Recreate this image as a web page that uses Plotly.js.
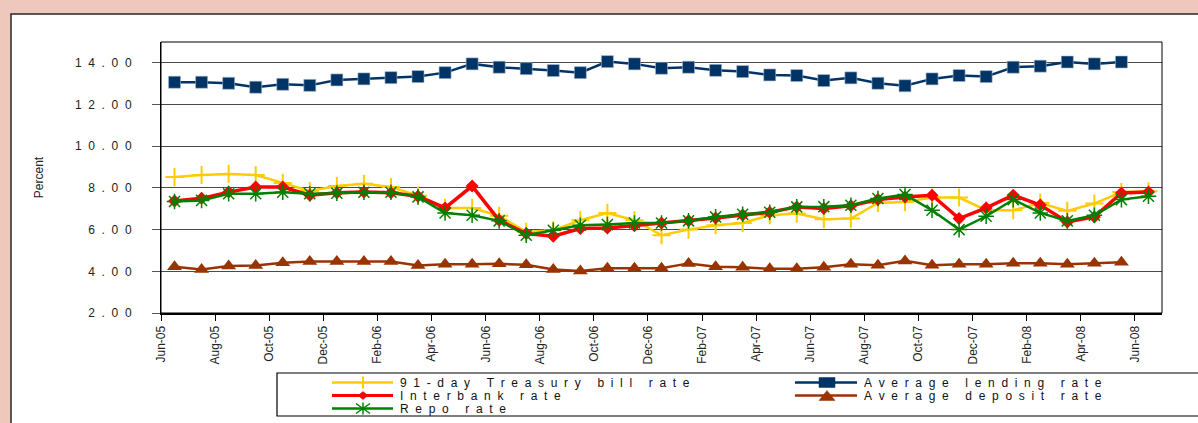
<!DOCTYPE html>
<html>
<head>
<meta charset="utf-8">
<script src="https://cdn.plot.ly/plotly-3.0.1.min.js"></script>
<style>
  html, body { margin: 0; padding: 0; background: #EEC8BD; }
  #chart { width: 1198px; height: 423px; }
</style>
</head>
<body>
<div id="chart"></div>
<script>
// ---------------- data ----------------
const months = ['Jun-05','Jul-05','Aug-05','Sep-05','Oct-05','Nov-05','Dec-05','Jan-06','Feb-06','Mar-06','Apr-06','May-06',
  'Jun-06','Jul-06','Aug-06','Sep-06','Oct-06','Nov-06','Dec-06','Jan-07','Feb-07','Mar-07','Apr-07','May-07',
  'Jun-07','Jul-07','Aug-07','Sep-07','Oct-07','Nov-07','Dec-07','Jan-08','Feb-08','Mar-08','Apr-08','May-08','Jun-08'];

const tbillRate = [8.52,8.62,8.67,8.62,8.24,7.85,8.09,8.20,8.04,7.63,7.04,7.04,
  6.66,5.89,5.97,6.45,6.80,6.45,5.73,6.00,6.21,6.32,6.69,6.77,
  6.50,6.53,7.28,7.33,7.54,7.54,6.93,6.93,7.28,6.90,7.25,7.80,7.84];

const lendingRate = [13.07,13.07,13.02,12.83,12.97,12.92,13.18,13.23,13.29,13.34,13.53,13.95,
  13.79,13.72,13.63,13.53,14.06,13.95,13.74,13.79,13.64,13.58,13.42,13.39,
  13.15,13.28,13.02,12.90,13.23,13.39,13.34,13.79,13.84,14.04,13.95,14.04,null];

const interbankRate = [7.37,7.50,7.80,8.04,8.04,7.65,7.77,7.80,7.77,7.60,7.04,8.09,
  6.45,5.81,5.68,6.05,6.08,6.19,6.32,6.42,6.56,6.70,6.83,7.09,
  7.01,7.14,7.44,7.57,7.65,6.53,7.04,7.65,7.18,6.37,6.61,7.76,7.80];

const depositRate = [4.22,4.09,4.25,4.28,4.41,4.47,4.47,4.47,4.47,4.28,4.34,4.34,
  4.36,4.31,4.09,4.02,4.15,4.15,4.15,4.38,4.22,4.19,4.12,4.12,
  4.19,4.34,4.29,4.50,4.29,4.34,4.34,4.39,4.39,4.34,4.39,4.44,null];

const repoRate = [7.35,7.40,7.72,7.72,7.79,7.72,7.75,7.79,7.79,7.57,6.80,6.69,
  6.42,5.73,5.97,6.21,6.24,6.32,6.32,6.42,6.61,6.74,6.83,7.09,
  7.10,7.17,7.49,7.68,6.93,6.00,6.64,7.44,6.80,6.42,6.69,7.44,7.60];

const yTicks = [2, 4, 6, 8, 10, 12, 14];
const yTitle = 'Percent';
const seriesNames = ['91-day Treasury bill rate', 'Average lending rate', 'Interbank rate', 'Average deposit rate', 'Repo rate'];

// ---------------- helpers ----------------
const idx = months.map((m, i) => i);
const tickIdx = idx.filter(i => i % 2 === 0);
const spaced = s => s.split('').join('\u00A0\u00A0');

const L = 161, R = 1162, T = 42, B = 313;
const X = px => (px - L) / (R - L);
const Y = py => (B - py) / (B - T);

const baseFont = 'Liberation Sans, Arial, Helvetica, sans-serif';
const legFont = 'Liberation Sans, Arial, sans-serif';

const styles = [
  {color: '#FFCC00', width: 2.5, marker: {symbol: 'cross-thin', size: 13, line: {color: '#FFCC00', width: 2}}},
  {color: '#003366', width: 2.5, marker: {symbol: 'square', size: 12, color: '#003366', line: {color: '#A8B8C8', width: 0.6}}},
  {color: '#FF0000', width: 3.5, marker: {symbol: 'diamond', size: 10, color: '#FF0000'}},
  {color: '#993300', width: 2.5, marker: {symbol: 'triangle-up', size: 13, color: '#993300'}},
  {color: '#008000', width: 2.5, marker: {symbol: 'asterisk-open', size: 13, line: {color: '#008000', width: 1.5}}}
];
const seriesData = [tbillRate, lendingRate, interbankRate, depositRate, repoRate];

const traces = seriesData.map((ys, k) => ({
  type: 'scatter', mode: 'lines+markers', name: seriesNames[k],
  x: idx, y: ys,
  line: {color: styles[k].color, width: styles[k].width},
  marker: Object.assign({}, styles[k].marker, styles[k].marker.color ? {} : {color: styles[k].color}),
  connectgaps: false, showlegend: false, hoverinfo: 'x+y+name'
}));

// ---------------- frame & manual legend ----------------
const shapes = [
  {type: 'rect', xref: 'paper', yref: 'paper', x0: X(11), x1: X(1210), y0: Y(440), y1: Y(14),
   fillcolor: '#FFFFFF', line: {color: '#2A2626', width: 1.5}, layer: 'below'},
  {type: 'rect', xref: 'paper', yref: 'paper', x0: 0, x1: 1, y0: 0, y1: 1,
   line: {color: '#000000', width: 1}, layer: 'above'},
  {type: 'rect', xref: 'paper', yref: 'paper', x0: X(277), x1: X(1210), y0: Y(416), y1: Y(373),
   fillcolor: 'rgba(0,0,0,0)', line: {color: '#000000', width: 1.2}, layer: 'above'}
];
const annotations = [];

const legCols = [{l0: 332, l1: 393, m: 363, t: 398}, {l0: 795, l1: 857, m: 827, t: 862}];
const legRows = [382.5, 395.5, 408.5];
const legPos = [[0,0],[1,0],[0,1],[1,1],[0,2]];

function seg(x0, y0, x1, y1, color, w) {
  shapes.push({type: 'line', xref: 'paper', yref: 'paper', x0: X(x0), y0: Y(y0), x1: X(x1), y1: Y(y1),
    line: {color: color, width: w}, layer: 'above'});
}
function poly(pts, color) {
  const d = pts.map((p, i) => (i ? 'L' : 'M') + X(p[0]) + ',' + Y(p[1])).join(' ') + ' Z';
  shapes.push({type: 'path', xref: 'paper', yref: 'paper', path: d, fillcolor: color,
    line: {color: color, width: 0.5}, layer: 'above'});
}

seriesNames.forEach((name, k) => {
  const c = legCols[legPos[k][0]], y = legRows[legPos[k][1]], col = styles[k].color, m = c.m;
  seg(c.l0, y, c.l1, y, col, k === 2 ? 3 : 2.5);
  if (k === 0) { seg(m, y - 6, m, y + 6, col, 2); }
  if (k === 1) { poly([[m-8,y-5],[m+8,y-5],[m+8,y+5],[m-8,y+5]], col); }
  if (k === 2) { poly([[m-5,y],[m,y-4],[m+5,y],[m,y+4]], col); }
  if (k === 3) { poly([[m-8,y+5],[m,y-5],[m+8,y+5]], col); }
  if (k === 4) { seg(m, y-6, m, y+6, col, 1.5); seg(m-7, y-5, m+7, y+5, col, 1.5); seg(m-7, y+5, m+7, y-5, col, 1.5); }
  annotations.push({xref: 'paper', yref: 'paper', x: X(c.t), y: Y(y), xanchor: 'left', yanchor: 'middle',
    text: spaced(name), showarrow: false, font: {family: legFont, size: 12, color: '#111'}});
});

const layout = {
  width: 1198, height: 423,
  margin: {l: L, r: 1198 - R, t: T, b: 423 - B, pad: 0},
  paper_bgcolor: '#EEC8BD', plot_bgcolor: '#FFFFFF',
  showlegend: false,
  xaxis: {
    range: [-0.5, months.length - 0.5], tickmode: 'array',
    tickvals: tickIdx.map(i => i - 0.5), ticktext: tickIdx.map(i => months[i]),
    tickangle: -90, ticks: 'outside', ticklen: 6, tickcolor: '#000',
    showgrid: false, zeroline: false, showline: true, linecolor: '#000', linewidth: 2,
    tickfont: {family: baseFont, size: 12, color: '#222'}, fixedrange: true
  },
  yaxis: {
    range: [2, 15], tickmode: 'array', tickvals: yTicks,
    ticktext: yTicks.map(v => spaced(v.toFixed(2))),
    ticks: 'outside', ticklen: 8, tickcolor: '#555', ticklabelstandoff: 18,
    showgrid: true, gridcolor: '#4A4A4A', gridwidth: 1,
    zeroline: false, showline: true, linecolor: '#000', linewidth: 1,
    tickfont: {family: baseFont, size: 12, color: '#222'},
    title: {text: yTitle, font: {family: baseFont, size: 12, color: '#222'}, standoff: 28},
    fixedrange: true
  },
  shapes: shapes,
  annotations: annotations
};

Plotly.newPlot('chart', traces, layout, {displayModeBar: false, staticPlot: true});
</script>
</body>
</html>
